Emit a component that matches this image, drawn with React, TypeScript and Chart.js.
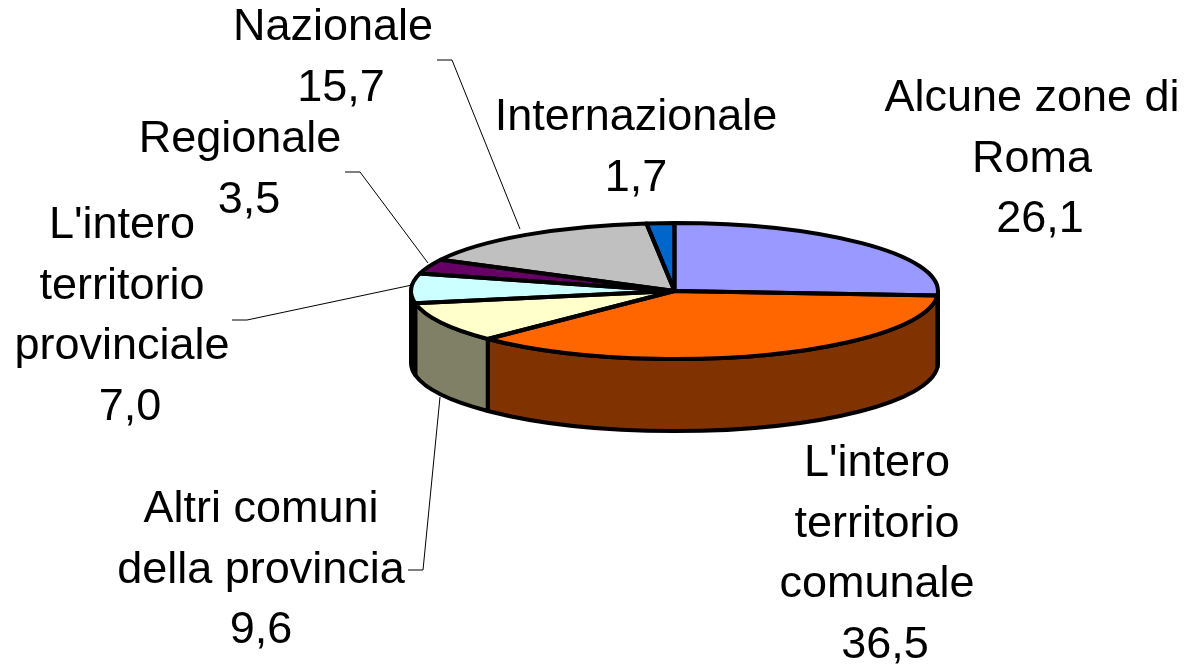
import React, { useEffect, useRef } from "react";
import { Chart, registerables } from "chart.js";

Chart.register(...registerables);

const categories = [
  "Alcune zone di Roma",
  "L'intero territorio comunale",
  "Altri comuni della provincia",
  "L'intero territorio provinciale",
  "Regionale",
  "Nazionale",
  "Internazionale",
];
const values = [26.1, 36.5, 9.6, 7.0, 3.5, 15.7, 1.7];
const topColors = ["#9999FF", "#FF6600", "#FFFFCC", "#CCFFFF", "#660066", "#C0C0C0", "#0066CC"];
const sideColors = ["#4C4C80", "#803300", "#808066", "#000000", "#330033", "#606060", "#003366"];
const labelLines = [
  ["Alcune zone di", "Roma"],
  ["L'intero", "territorio", "comunale"],
  ["Altri comuni", "della provincia"],
  ["L'intero", "territorio", "provinciale"],
  ["Regionale"],
  ["Nazionale"],
  ["Internazionale"],
];

// layout only
const W = 1188;
const H = 665;
const CX = 674.5;
const CY = 291;
const RX = 263.5;
const RY = 68;
const DEPTH = 72;
const LINE_H = 60.5;
const FONT = '45px "Liberation Sans", Arial, sans-serif';
const labelCenters: [number, number][] = [
  [1032, 99],
  [877, 464],
  [261, 510],
  [122, 226],
  [240, 140],
  [333, 28],
  [636, 118],
];
const valueShift = [8, 8, 0, 8, 9, 8, 0];
const leaders: [number, number][][] = [
  [[437, 60], [452, 60], [520, 229]],
  [[345, 172], [360, 172], [428, 263]],
  [[232, 320], [247, 320], [412, 285]],
  [[408, 570], [423, 570], [440, 397]],
];

const pie3d = {
  id: "pie3d",
  beforeDatasetsDraw(chart: any) {
    const ctx = chart.ctx;
    const arcs = chart.getDatasetMeta(0).data;
    ctx.save();
    ctx.lineWidth = 4;
    ctx.strokeStyle = "#000";
    ctx.lineJoin = "round";
    arcs.forEach((arc: any, i: number) => {
      const a0 = Math.max(arc.startAngle, 0);
      const a1 = Math.min(arc.endAngle, Math.PI);
      if (a1 <= a0) return;
      ctx.beginPath();
      ctx.ellipse(CX, CY, RX, RY, 0, a0, a1, false);
      ctx.lineTo(CX + RX * Math.cos(a1), CY + RY * Math.sin(a1) + DEPTH);
      ctx.ellipse(CX, CY + DEPTH, RX, RY, 0, a1, a0, true);
      ctx.closePath();
      ctx.fillStyle = sideColors[i];
      ctx.fill();
      ctx.stroke();
    });
    ctx.restore();
  },
  beforeDatasetDraw(chart: any) {
    const ctx = chart.ctx;
    ctx.save();
    ctx.translate(CX, CY);
    ctx.scale(1, RY / RX);
    ctx.translate(-CX, -CY);
  },
  afterDatasetDraw(chart: any) {
    const ctx = chart.ctx;
    ctx.restore();
    const arcs = chart.getDatasetMeta(0).data;
    ctx.save();
    ctx.lineWidth = 4;
    ctx.strokeStyle = "#000";
    ctx.lineJoin = "round";
    arcs.forEach((arc: any) => {
      ctx.beginPath();
      ctx.moveTo(CX, CY);
      ctx.ellipse(CX, CY, RX, RY, 0, arc.startAngle, arc.endAngle, false);
      ctx.closePath();
      ctx.stroke();
    });
    ctx.restore();
  },
  afterDatasetsDraw(chart: any) {
    const ctx = chart.ctx;
    ctx.save();
    ctx.strokeStyle = "#000";
    ctx.lineWidth = 1;
    leaders.forEach((pts) => {
      ctx.beginPath();
      pts.forEach(([x, y], i) => (i ? ctx.lineTo(x, y) : ctx.moveTo(x, y)));
      ctx.stroke();
    });
    ctx.fillStyle = "#000";
    ctx.font = FONT;
    ctx.textAlign = "center";
    ctx.textBaseline = "middle";
    categories.forEach((_, i) => {
      const [x, y] = labelCenters[i];
      labelLines[i].forEach((t, k) => ctx.fillText(t, x, y + k * LINE_H));
      ctx.fillText(
        values[i].toFixed(1).replace(".", ","),
        x + valueShift[i],
        y + labelLines[i].length * LINE_H
      );
    });
    ctx.restore();
  },
};

export default function App() {
  const ref = useRef<HTMLCanvasElement>(null);
  useEffect(() => {
    document.body.style.margin = "0";
    const chart = new Chart(ref.current!, {
      type: "pie",
      data: {
        labels: categories,
        datasets: [{ data: values, backgroundColor: topColors, borderWidth: 0 }],
      },
      options: {
        responsive: false,
        animation: false,
        layout: {
          padding: { left: CX - RX, right: W - CX - RX, top: CY - RX, bottom: H - CY - RX },
        },
        plugins: { legend: { display: false }, tooltip: { enabled: false } },
      },
      plugins: [pie3d],
    } as any);
    return () => chart.destroy();
  }, []);
  return <canvas ref={ref} width={W} height={H} style={{ display: "block", width: W, height: H }} />;
}
